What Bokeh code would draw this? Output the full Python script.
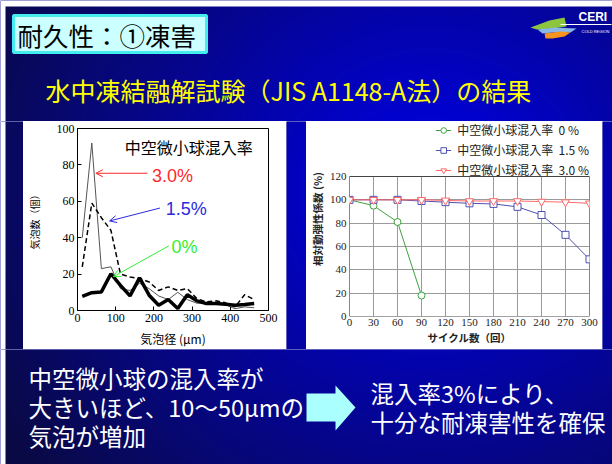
import numpy as np
from bokeh.plotting import figure
from bokeh.layouts import column, row
from bokeh.models import Range1d, FixedTicker, Legend, LegendItem, Arrow, OpenHead, Label
from bokeh.embed import file_html
from bokeh.resources import INLINE
from bokeh.core.properties import value

# ---------------- data: left chart (bubble size distribution) ----------------
bubble_diam = [12.5, 37.5, 62.5, 87.5, 112.5, 137.5, 162.5, 187.5, 212.5, 237.5,
               262.5, 287.5, 312.5, 337.5, 362.5, 387.5, 412.5, 437.5, 462.5]
count_0 = [7.8, 9.8, 10.2, 20.2, 13.8, 8.0, 17.9, 8.4, 2.9, 6.0,
           1.1, 8.7, 5.3, 3.8, 3.8, 3.5, 2.9, 3.3, 3.8]
count_15 = [24, 59, 51, 44, 20, 18.4, 17.5, 15.7, 11, 13,
            11, 12, 6.5, 4.7, 5.3, 4.2, 2, 8.7, 6]
count_30 = [40, 92, 23, 24, 12, 11, 15, 12, 8, 6,
            10, 6, 4, 4, 4, 3, 1, 2, 1.5]
c1_xticks = [0, 100, 200, 300, 400, 500]
c1_yticks = [0, 20, 40, 60, 80, 100]
c1_labels = ["3.0%", "1.5%", "0%"]
c1_label_x = [195, 231, 246]
c1_label_y = [73.8, 55.7, 35.0]
c1_arrow_x0 = [183, 216, 239]
c1_arrow_y0 = [75.4, 56.3, 35.5]
c1_arrow_x1 = [48, 84, 94]
c1_arrow_y1 = [75.4, 49.2, 18.6]
c1_title = "中空微小球混入率"

# ---------------- data: right chart (relative dynamic modulus) ----------------
cycles = [0, 30, 60, 90, 120, 150, 180, 210, 240, 270, 300]
rdm_0 = [100, 95, 81, 18]
rdm_15 = [100, 100, 100, 99, 98, 97, 96.5, 94, 87, 70, 49]
rdm_30 = [100, 100, 100, 100, 99.5, 99, 99, 99, 98.5, 98, 97]
c2_names = ["中空微小球混入率  0 %", "中空微小球混入率  1.5 %", "中空微小球混入率  3.0 %"]
c2_xticks = [0, 30, 60, 90, 120, 150, 180, 210, 240, 270, 300]
c2_yticks = [0, 20, 40, 60, 80, 100, 120]

# ---------------- slide texts ----------------
slide_title = "耐久性：①凍害"
slide_subtitle = "水中凍結融解試験（JIS A1148-A法）の結果"
left_lines = ["中空微小球の混入率が", "大きいほど、10～50μmの", "気泡が増加"]
right_lines = ["混入率3%により、", "十分な耐凍害性を確保"]

JP = value("Noto Sans CJK JP")
SERIF = "Liberation Serif"
SLIDE_X0, SLIDE_Y0 = 5, 6


def grad_image(x0, x1, y0, y1):
    xs = np.arange(x0, x1) + 0.5
    ys = np.arange(y1, y0, -1) - 0.5
    X, Y = np.meshgrid(xs, ys)
    d = np.hypot(X - 430.0, (Y - 190.0) * 1.1)
    b = np.clip(235 - 0.33 * d, 70, 235)
    rg = np.clip(0.06 * (235 - b), 0, 255)
    white = (X < SLIDE_X0) | (Y < SLIDE_Y0)
    img = np.empty(X.shape, dtype=np.uint32)
    v = img.view(dtype=np.uint8).reshape(X.shape + (4,))
    v[..., 0] = np.where(white, 255, rg).astype(np.uint8)
    v[..., 1] = np.where(white, 255, rg).astype(np.uint8)
    v[..., 2] = np.where(white, 255, b).astype(np.uint8)
    v[..., 3] = 255
    return img


def slide_fig(x0, x1, y0, y1):
    f = figure(width=x1 - x0, height=y1 - y0, x_range=Range1d(x0, x1),
               y_range=Range1d(-y1, -y0), output_backend="svg", toolbar_location=None,
               x_axis_location=None, y_axis_location=None, min_border=0)
    f.grid.visible = False
    f.outline_line_color = None
    f.background_fill_color = "#000090"
    f.border_fill_color = "#000090"
    f.image_rgba(image=[grad_image(x0, x1, y0, y1)], x=x0, y=-y1, dw=x1 - x0, dh=y1 - y0)
    return f


# ---------------- header ----------------
header = slide_fig(0, 612, 0, 121)
header.quad(left=13, right=206, top=-15, bottom=-52, fill_color="#ccffff",
            line_color="#44eeee", line_width=3)
header.text(x=[17], y=[-33.5], text=[slide_title], text_font=JP, text_font_size="25.5px",
            text_baseline="middle", text_color="black")
header.text(x=[45], y=[-89], text=[slide_subtitle], text_font=JP, text_font_size="25px",
            text_baseline="middle", text_color="#ffff00")
# logo (decorative)
header.patch(x=[530, 549, 564, 566, 552, 536], y=[-27, -20, -17, -26, -28, -29], fill_color="#8cc63f", line_color=None)
header.patch(x=[537, 554, 576, 570, 552, 542], y=[-29, -27, -28, -32, -32, -33], fill_color="#8ab8e6", line_color=None)
header.patch(x=[544, 560, 570, 564, 552, 545], y=[-33, -31, -32, -36, -38, -38], fill_color="#f7941d", line_color=None)
header.segment(x0=[560], y0=[-24], x1=[611], y1=[-24], line_color="white", line_width=1)
header.text(x=[578], y=[-16], text=["CERI"], text_font=value("Liberation Sans"),
            text_font_size="12px", text_font_style="bold", text_color="white", text_baseline="middle")
header.text(x=[581], y=[-31], text=["COLD REGION"], text_font=value("Liberation Sans"),
            text_font_size="4px", text_color="white", text_baseline="middle")

# ---------------- middle row ----------------
gap_l = slide_fig(0, 23, 121, 349)
gap_m = slide_fig(286, 306, 121, 349)
gap_r = slide_fig(602, 612, 121, 349)

# left chart
p1 = figure(width=263, height=228, x_range=Range1d(0, 500), y_range=Range1d(0, 100),
            output_backend="svg", toolbar_location=None,
            min_border_left=48, min_border_right=18, min_border_top=7, min_border_bottom=37)
p1.background_fill_color = "white"
p1.border_fill_color = "white"
p1.outline_line_color = "black"
p1.grid.visible = False
p1.line(bubble_diam, count_30, line_color="#555555", line_width=1)
p1.line(bubble_diam, count_15, line_color="black", line_width=1.5, line_dash="5 3")
p1.line(bubble_diam, count_0, line_color="black", line_width=3.5)
p1.xaxis.ticker = FixedTicker(ticks=c1_xticks)
p1.yaxis.ticker = FixedTicker(ticks=c1_yticks)
for ax in (p1.xaxis, p1.yaxis):
    ax.major_tick_in = 4
    ax.major_tick_out = 0
    ax.minor_tick_line_color = None
    ax.axis_line_color = "black"
    ax.major_tick_line_color = "black"
    ax.major_label_text_font = SERIF
    ax.major_label_text_font_size = "12px"
    ax.major_label_text_color = "black"
    ax.axis_label_text_font = "Noto Sans CJK JP"
    ax.axis_label_text_font_style = "normal"
    ax.axis_label_text_color = "black"
    ax.major_label_standoff = 3
p1.xaxis.axis_label = "気泡径 (μm)"
p1.xaxis.axis_label_text_font_size = "12px"
p1.xaxis.axis_label_standoff = 5
p1.yaxis.axis_label = "気泡数（個）"
p1.yaxis.axis_label_text_font_size = "10px"
p1.yaxis.axis_label_standoff = 12

p1.add_layout(Label(x=124, y=89.6, text=c1_title, text_font="Noto Sans CJK JP",
                    text_font_size="16px", text_color="black", text_baseline="middle"))
c1_colors = ["#ff2a2a", "#2a2ae0", "#33ee33"]
for i in range(3):
    p1.add_layout(Arrow(end=OpenHead(size=7, line_color=c1_colors[i], line_width=1),
                        x_start=c1_arrow_x0[i], y_start=c1_arrow_y0[i],
                        x_end=c1_arrow_x1[i], y_end=c1_arrow_y1[i],
                        line_color=c1_colors[i], line_width=1))
    p1.add_layout(Label(x=c1_label_x[i], y=c1_label_y[i], text=c1_labels[i],
                        text_font="Liberation Sans", text_font_size="18px",
                        text_color=c1_colors[i], text_baseline="middle"))

# right chart: the frame also covers the legend strip above the 0-120 plotting box
P2_H, P2_TOP, P2_BOTTOM = 228, 0, 33
P2_BOX_PX = 140  # pixel height of the 0..120 box
y2_top = max(c2_yticks) * (P2_H - P2_TOP - P2_BOTTOM) / P2_BOX_PX
p2 = figure(width=296, height=P2_H, x_range=Range1d(0, 300), y_range=Range1d(0, y2_top),
            output_backend="svg", toolbar_location=None, title=None,
            min_border_left=43, min_border_right=13, min_border_top=P2_TOP, min_border_bottom=P2_BOTTOM)
p2.background_fill_color = "white"
p2.border_fill_color = "white"
p2.outline_line_color = None
p2.xgrid.visible = False
p2.ygrid.ticker = FixedTicker(ticks=c2_yticks)
p2.ygrid.grid_line_color = "#9a9a9a"
p2.segment(x0=c2_xticks, y0=[min(c2_yticks)] * len(c2_xticks), x1=c2_xticks,
           y1=[max(c2_yticks)] * len(c2_xticks), line_color="#9a9a9a", line_width=1)
p2.quad(left=[min(c2_xticks)], right=[max(c2_xticks)], bottom=[min(c2_yticks)], top=[max(c2_yticks)],
        fill_color=None, line_color="#444444", line_width=1)
p2.xaxis.ticker = FixedTicker(ticks=c2_xticks)
p2.yaxis.ticker = FixedTicker(ticks=c2_yticks)
p2.yaxis.bounds = (min(c2_yticks), max(c2_yticks))
for ax in (p2.xaxis, p2.yaxis):
    ax.major_tick_in = 0
    ax.major_tick_out = 0
    ax.minor_tick_line_color = None
    ax.axis_line_color = None
    ax.major_label_text_font = SERIF
    ax.major_label_text_font_size = "11px"
    ax.major_label_text_color = "#222222"
    ax.axis_label_text_font = "Noto Sans CJK JP"
    ax.axis_label_text_font_style = "bold"
    ax.axis_label_text_font_size = "10.5px"
    ax.axis_label_text_color = "#222222"
p2.xaxis.major_label_standoff = 2
p2.yaxis.major_label_standoff = 3
p2.xaxis.axis_label = "サイクル数（回）"
p2.xaxis.axis_label_standoff = 1
p2.yaxis.axis_label = "相対動弾性係数 (%)"
p2.yaxis.axis_label_standoff = 2

c2_colors = ["#3fa03f", "#5050b0", "#ff6a6a"]
l0 = p2.line(cycles[:len(rdm_0)], rdm_0, line_color=c2_colors[0], line_width=1)
s0 = p2.scatter(cycles[:len(rdm_0)], rdm_0, marker="circle", size=7, line_color=c2_colors[0], fill_color="white")
l1 = p2.line(cycles, rdm_15, line_color=c2_colors[1], line_width=1)
s1 = p2.scatter(cycles, rdm_15, marker="square", size=7, line_color=c2_colors[1], fill_color="white")
l2 = p2.line(cycles, rdm_30, line_color=c2_colors[2], line_width=1)
s2 = p2.scatter(cycles, rdm_30, marker="inverted_triangle", size=8, line_color=c2_colors[2], fill_color="white")
leg = Legend(items=[LegendItem(label=c2_names[0], renderers=[l0, s0]),
                    LegendItem(label=c2_names[1], renderers=[l1, s1]),
                    LegendItem(label=c2_names[2], renderers=[l2, s2])],
             location="top_right", orientation="vertical")
leg.background_fill_alpha = 0
leg.border_line_color = None
leg.label_text_font = "Noto Sans CJK JP"
leg.label_text_font_size = "12px"
leg.label_text_color = "#222222"
leg.glyph_width = 16
leg.glyph_height = 14
leg.label_height = 14
leg.spacing = 3
leg.padding = 0
leg.margin = 0
leg.label_standoff = 6
p2.add_layout(leg)

# ---------------- footer ----------------
footer = slide_fig(0, 612, 349, 464)
for i, t in enumerate(left_lines):
    footer.text(x=[28], y=[-(377 + 29 * i)], text=[t], text_font=JP, text_font_size="23.5px",
                text_baseline="middle", text_color="white")
for i, t in enumerate(right_lines):
    footer.text(x=[370], y=[-(392 + 29 * i)], text=[t], text_font=JP, text_font_size="23.5px",
                text_baseline="middle", text_color="white")
footer.patch(x=[306, 335, 335, 355, 335, 335, 306], y=[-393, -393, -385, -407, -430, -421, -421],
             fill_color="#aaffff", line_color=None)

middle = row(gap_l, column(p1), gap_m, column(p2), gap_r)
layout = column(header, middle, footer)
open("out.html", "w").write(file_html(layout, INLINE))
